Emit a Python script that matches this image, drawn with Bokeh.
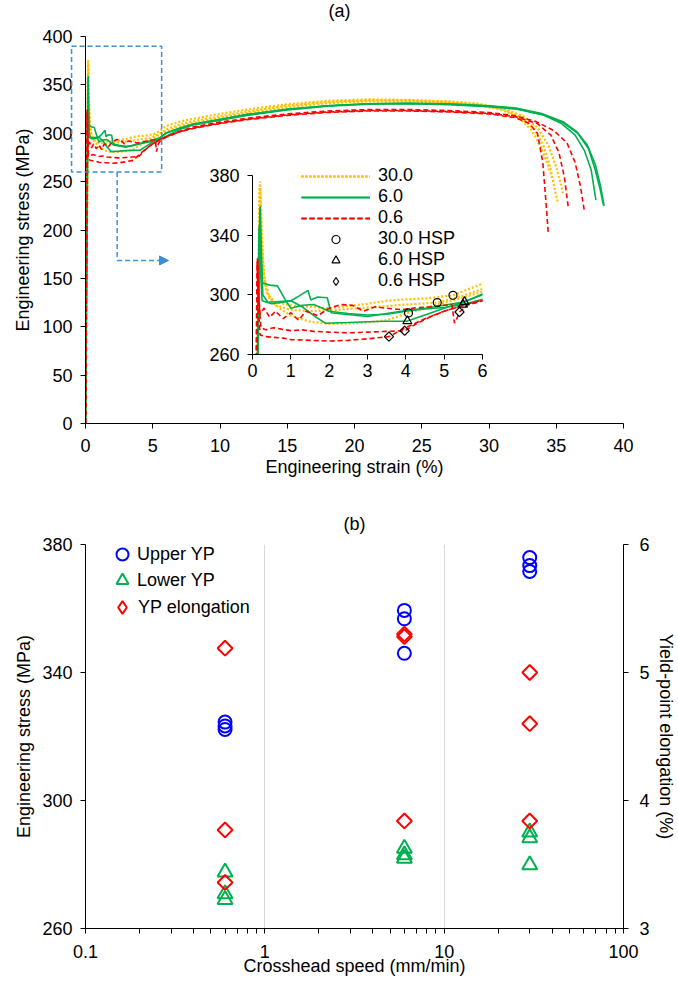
import numpy as np
from bokeh.plotting import figure
from bokeh.models import (Range1d, LinearAxis, FixedTicker, PrintfTickFormatter, Legend,
                          LegendItem, BoxAnnotation, Arrow, NormalHead, GridBox, Column, Label)
from bokeh.embed import file_html
from bokeh.resources import INLINE

# ---------------------------------------------------------------- data
# Engineering stress-strain records, three specimens per crosshead speed (mm/min)
strain_30_a = [0, 0.20, 0.24, 0.30, 0.40, 0.60, 1.0, 1.5, 2.0, 2.5, 3.0, 3.5, 4.0, 4.5, 5.23, 6.0, 7.0, 8.0,
               10, 12, 15, 18, 21, 24, 27, 29, 31, 32.5, 33.6, 34.4, 35.0, 35.3, 35.5]
stress_30_a = [0, 375.9, 340, 312, 300, 295, 293, 292, 291, 292.5, 294, 296, 297, 297.5, 299.7, 307.5, 312, 315,
               320, 324.5, 330, 333.5, 335, 334.5, 333, 331, 326, 318, 306, 288, 265, 250, 238]

strain_30_b = [0, 0.18, 0.22, 0.28, 0.36, 0.60, 1.0, 1.5, 2.0, 2.5, 3.0, 3.5, 4.0, 4.82, 5.5, 6.0, 7.0, 8.0,
               10, 12, 15, 18, 21, 24, 27, 29, 31, 32.3, 33.3, 34.0, 34.5, 34.8, 35.1]
stress_30_b = [0, 373.4, 345, 318, 302, 293, 290, 289, 289.5, 290.5, 291.5, 292.5, 293.5, 294.8, 299.5, 304, 309,
               312.5, 317.5, 322.5, 328.5, 332.5, 334, 334, 332, 330, 325, 317, 305, 289, 268, 248, 229]

strain_30_c = [0, 0.20, 0.25, 0.30, 0.45, 0.70, 1.0, 1.5, 2.0, 2.5, 3.0, 3.5, 4.07, 4.6, 5.2, 6.0, 7.0, 8.0,
               10, 12, 15, 18, 21, 24, 27, 29, 31, 32.2, 33.1, 33.8, 34.3, 34.6, 34.8]
stress_30_c = [0, 371.6, 338, 312, 297, 291, 286, 282, 280.5, 280.8, 281.5, 283, 287.9, 292, 296, 302, 307, 310.5,
               316, 321, 327, 331, 333, 333, 331.5, 329.5, 324, 316, 304, 288, 270, 258, 250]

strain_6_a = [0, 0.20, 0.23, 0.27, 0.40, 0.70, 1.0, 1.2, 1.45, 1.52, 1.7, 1.95, 2.05, 2.4, 3.0, 3.5, 4.0, 4.5,
              5.0, 5.53, 6.0, 7.0, 8.0, 10, 12, 15, 18, 21, 24, 27, 30, 32, 34, 35.5, 36.5, 37.3, 37.9, 38.3,
              38.56]
stress_6_a = [0, 359.4, 330, 300, 295, 295.5, 296, 299, 303, 296.5, 298.5, 298, 288, 287, 285.5, 287.5, 289.5,
              291, 293, 295.3, 300, 305.5, 309.5, 314.5, 319.5, 325, 328.5, 330.5, 331, 330.5, 328.5, 326, 320,
              312, 302, 288, 268, 245, 224.6]

strain_6_b = [0, 0.19, 0.22, 0.26, 0.45, 0.65, 0.85, 1.0, 1.3, 1.6, 2.0, 2.5, 3.0, 3.5, 4.0, 4.5, 5.0, 5.49,
              6.0, 7.0, 8.0, 10, 12, 15, 18, 21, 24, 27, 30, 32, 34, 35.4, 36.4, 37.1, 37.6, 37.95]
stress_6_b = [0, 356.8, 325, 308, 306.5, 306, 297, 291, 293, 293.5, 289, 287.5, 286.5, 287, 289, 290.5, 291.5,
              293.5, 297, 304, 308.5, 313.5, 318.5, 324, 328, 330, 330.5, 329.5, 327.5, 325, 319, 310, 298, 282,
              262, 231]

strain_6_c = [0, 0.17, 0.21, 0.25, 0.50, 0.80, 1.0, 1.3, 1.6, 1.9, 2.5, 3.0, 3.5, 4.04, 4.5, 5.0, 5.5, 6.0,
              7.0, 8.0, 10, 12, 15, 18, 21, 24, 27, 30, 32, 34, 35.5, 36.6, 37.4, 37.9, 38.3, 38.5]
stress_6_c = [0, 346.0, 315, 296, 294, 295, 296, 292, 286, 281, 281.5, 282, 282.3, 282.4, 286.5, 291, 295,
              300.5, 305, 309, 314, 319, 324.5, 328.5, 330.5, 331, 330, 328, 325.5, 319.5, 311, 300, 284, 262,
              240, 226]

strain_06_a = [0, 0.13, 0.16, 0.20, 0.30, 0.45, 0.60, 0.80, 1.0, 1.2, 1.4, 1.7, 2.0, 2.3, 2.6, 2.9, 3.2, 3.5,
               3.9, 4.3, 4.7, 5.0, 5.2, 5.27, 5.33, 5.40, 5.6, 6.0, 7.0, 8.0, 10, 12, 15, 18, 21, 24, 27, 30,
               32, 33.5, 34.8, 35.8, 36.4, 36.8, 37.1]
stress_06_a = [0, 324.5, 300, 287, 291, 285, 289, 284, 288, 283, 289, 286, 291, 293.5, 293, 289, 292, 291, 290,
               291.5, 292, 293, 293.5, 281, 284, 288.5, 293, 296, 302, 306.5, 311.5, 315.5, 320, 323, 324.5,
               324.5, 323.5, 321.5, 318, 312, 303, 290, 270, 245, 219]

strain_06_b = [0, 0.14, 0.17, 0.22, 0.35, 0.55, 0.75, 1.0, 1.3, 1.6, 2.0, 2.5, 3.0, 3.5, 3.97, 4.3, 4.7, 5.0,
               5.5, 6.0, 7.0, 8.0, 10, 12, 15, 18, 21, 24, 27, 30, 32, 33.6, 34.6, 35.2, 35.6, 35.9]
stress_06_b = [0, 323.3, 295, 278, 276.5, 278, 277, 276, 276.5, 275.5, 275, 274.5, 275, 275.5, 275.9, 281, 286,
               289, 293, 296, 301.5, 305.5, 310.5, 314.5, 319, 322, 323.5, 323.5, 322.5, 320.5, 317, 310, 298,
               280, 255, 223]

strain_06_c = [0, 0.12, 0.15, 0.20, 0.35, 0.55, 0.80, 1.0, 1.5, 2.0, 2.5, 3.0, 3.56, 4.0, 4.5, 5.0, 5.5, 6.0,
               7.0, 8.0, 10, 12, 15, 18, 21, 24, 27, 30, 32, 33.0, 33.6, 34.0, 34.2, 34.4]
stress_06_c = [0, 322.2, 290, 273, 272, 271.5, 271, 270, 269.5, 269, 269.5, 270.5, 272.0, 278, 284, 289, 293,
               296.5, 301.5, 305, 310, 314, 318.5, 321.5, 323, 323, 322, 320, 316, 310, 300, 270, 235, 198]

# Hardening start points (HSP)
hsp_strain_30 = [4.07, 4.82, 5.23]
hsp_stress_30 = [287.9, 294.8, 299.7]
hsp_strain_6 = [4.04, 5.49, 5.53]
hsp_stress_6 = [282.4, 293.5, 295.3]
hsp_strain_06 = [3.56, 3.97, 5.40]
hsp_stress_06 = [272.0, 275.9, 288.5]

# Yield-point summary against crosshead speed
speed = [0.6, 0.6, 0.6, 6, 6, 6, 30, 30, 30]
upper_yp = [324.5, 323.3, 322.2, 359.4, 356.8, 346.0, 375.9, 373.4, 371.6]
lower_yp = [277.6, 270.8, 269.0, 285.0, 283.0, 281.9, 290.1, 288.3, 279.9]
yp_elongation = [5.19, 3.77, 3.36, 5.30, 5.28, 3.84, 5.00, 4.60, 3.84]

strain_ticks = [0, 5, 10, 15, 20, 25, 30, 35, 40]
stress_ticks = [0, 50, 100, 150, 200, 250, 300, 350, 400]
inset_strain_ticks = [0, 1, 2, 3, 4, 5, 6]
inset_stress_ticks = [260, 300, 340, 380]
speed_ticks = [0.1, 1, 10, 100]
speed_minor_ticks = [0.2, 0.3, 0.4, 0.5, 0.6, 0.7, 0.8, 0.9, 2, 3, 4, 5, 6, 7, 8, 9,
                     20, 30, 40, 50, 60, 70, 80, 90]
ys_ticks = [260, 300, 340, 380]
elong_ticks = [3, 4, 5, 6]

# zoomed region shown in the inset (strain %, stress MPa) and its pointer
zoom_left, zoom_right, zoom_bottom, zoom_top = -0.8, 5.8, 260, 390
pointer_x, pointer_y, pointer_end = 2.54, 168.5, 6.3

# ---------------------------------------------------------------- geometry & styling
FONT = "Liberation Sans"
ORANGE, GREEN, RED, BLUE = "#FFC000", "#00B050", "#FF0000", "#0000FF"
ZOOM_COLOR = "#3B8FD9"

TOP_W, TOP_H = 678, 495
TOP_BORDER = dict(left=82, right=50, top=36, bottom=72)
STRAIN_RANGE, STRESS_RANGE = (0, 40), (0, 400)
OVERLAY_W, OVERLAY_H = 678, 385          # transparent overlay holding the zoom frame and the panel tag

line_style = {
    "30.0": dict(line_color=ORANGE, line_width=2.2, line_dash="2 2"),
    "6.0": dict(line_color=GREEN, line_width=1.6),
    "0.6": dict(line_color=RED, line_width=1.6, line_dash="5 3"),
}
curves = [
    ("30.0", strain_30_a, stress_30_a), ("30.0", strain_30_b, stress_30_b), ("30.0", strain_30_c, stress_30_c),
    ("6.0", strain_6_a, stress_6_a), ("6.0", strain_6_b, stress_6_b), ("6.0", strain_6_c, stress_6_c),
    ("0.6", strain_06_a, stress_06_a), ("0.6", strain_06_b, stress_06_b), ("0.6", strain_06_c, stress_06_c),
]


def style_axis(ax, label_standoff=8, title_standoff=2):
    ax.axis_line_color = "black"
    ax.axis_line_width = 1
    ax.major_tick_line_color = "black"
    ax.major_tick_in = 0
    ax.major_tick_out = 5
    ax.minor_tick_line_color = None
    ax.major_label_standoff = label_standoff
    ax.axis_label_standoff = title_standoff
    ax.major_label_text_font = FONT
    ax.major_label_text_font_size = "18px"
    ax.major_label_text_color = "black"
    ax.axis_label_text_font = FONT
    ax.axis_label_text_font_size = "18px"
    ax.axis_label_text_font_style = "normal"
    ax.axis_label_text_color = "black"


def legend_box(items, location, glyph_w, glyph_h, standoff):
    return Legend(items=items, location=location, glyph_width=glyph_w, glyph_height=glyph_h,
                  label_height=glyph_h, spacing=0, padding=0, margin=0, label_standoff=standoff,
                  background_fill_alpha=0, border_line_color=None, label_text_font=FONT,
                  label_text_font_size="18px", label_text_color="black")


def key(fig, marker, size, color):
    # legend key only: a single undefined point, nothing is drawn in the plot area
    return fig.scatter(x=[np.nan], y=[np.nan], marker=marker, size=size, fill_color=None,
                       line_color=color, line_width=1.2 if color == "black" else 2)


# ---------------------------------------------------------------- (a) full curves
p = figure(width=TOP_W, height=TOP_H, x_range=Range1d(*STRAIN_RANGE), y_range=Range1d(*STRESS_RANGE),
           output_backend="svg", toolbar_location=None,
           min_border_left=TOP_BORDER["left"], min_border_right=TOP_BORDER["right"],
           min_border_top=TOP_BORDER["top"], min_border_bottom=TOP_BORDER["bottom"],
           x_axis_label="Engineering strain (%)", y_axis_label="Engineering stress (MPa)")
p.grid.visible = False
p.outline_line_color = None
p.xaxis.ticker = FixedTicker(ticks=strain_ticks)
p.yaxis.ticker = FixedTicker(ticks=stress_ticks)
style_axis(p.xaxis[0], label_standoff=10, title_standoff=2)
style_axis(p.yaxis[0], label_standoff=8, title_standoff=6)

main_lines = {"30.0": [], "6.0": [], "0.6": []}
for speed_label, xs, ys in curves:
    main_lines[speed_label].append(p.line(xs, ys, **line_style[speed_label]))

p.add_layout(legend_box([
    LegendItem(label="30.0", renderers=main_lines["30.0"]),
    LegendItem(label="6.0", renderers=main_lines["6.0"]),
    LegendItem(label="0.6", renderers=main_lines["0.6"]),
    LegendItem(label="30.0 HSP", renderers=[key(p, "circle", 8, "black")]),
    LegendItem(label="6.0 HSP", renderers=[key(p, "triangle", 8, "black")]),
    LegendItem(label="0.6 HSP", renderers=[key(p, "diamond", 8, "black")]),
], (216, 132), 69, 20, 8))

# ---------------------------------------------------------------- zoom frame, pointer and tag
# transparent overlay sharing the strain/stress scale of (a), so the frame may
# extend past the stress axis
px_strain = (TOP_W - TOP_BORDER["left"] - TOP_BORDER["right"]) / (STRAIN_RANGE[1] - STRAIN_RANGE[0])
px_stress = (TOP_H - TOP_BORDER["top"] - TOP_BORDER["bottom"]) / (STRESS_RANGE[1] - STRESS_RANGE[0])
ov_x0 = STRAIN_RANGE[0] - TOP_BORDER["left"] / px_strain
ov_y1 = STRESS_RANGE[1] + TOP_BORDER["top"] / px_stress
pz = figure(width=OVERLAY_W, height=OVERLAY_H,
            x_range=Range1d(ov_x0, ov_x0 + OVERLAY_W / px_strain),
            y_range=Range1d(ov_y1 - OVERLAY_H / px_stress, ov_y1),
            output_backend="svg", toolbar_location=None,
            min_border_left=0, min_border_right=0, min_border_top=0, min_border_bottom=0,
            x_axis_location=None, y_axis_location=None)
pz.grid.visible = False
pz.outline_line_color = None
pz.background_fill_color = None
pz.border_fill_color = None
pz.add_layout(BoxAnnotation(left=zoom_left, right=zoom_right, bottom=zoom_bottom, top=zoom_top,
                            fill_alpha=0, line_color=ZOOM_COLOR, line_alpha=1, line_width=1.5,
                            line_dash="5 3"))
pz.add_layout(Arrow(x_start=pointer_x, y_start=zoom_bottom, x_end=pointer_x, y_end=pointer_y, end=None,
                    line_color=ZOOM_COLOR, line_width=1.5, line_dash="5 3"))
pz.add_layout(Arrow(x_start=pointer_x, y_start=pointer_y, x_end=pointer_end, y_end=pointer_y,
                    end=NormalHead(size=9, fill_color=ZOOM_COLOR, line_color=ZOOM_COLOR),
                    line_color=ZOOM_COLOR, line_width=1.5, line_dash="5 3"))
pz.add_layout(Label(x=OVERLAY_W / 2, y=OVERLAY_H - 10, x_units="screen", y_units="screen", text="(a)",
                    text_align="center", text_baseline="middle", text_font=FONT,
                    text_font_size="18px", text_color="black"))
overlay_layer = Column(children=[pz], width=OVERLAY_W, height=OVERLAY_H)

# ---------------------------------------------------------------- (a) inset, yield region
pi = figure(width=295, height=250, x_range=Range1d(0, 6), y_range=Range1d(260, 380),
            output_backend="svg", toolbar_location=None,
            min_border_left=45, min_border_right=19, min_border_top=40, min_border_bottom=31)
pi.grid.visible = False
pi.outline_line_color = None
pi.background_fill_color = None
pi.border_fill_color = None
pi.xaxis.ticker = FixedTicker(ticks=inset_strain_ticks)
pi.yaxis.ticker = FixedTicker(ticks=inset_stress_ticks)
style_axis(pi.xaxis[0], label_standoff=4)
style_axis(pi.yaxis[0], label_standoff=8)

for speed_label, xs, ys in curves:
    pi.line(xs, ys, **line_style[speed_label])

pi.scatter(hsp_strain_30, hsp_stress_30, marker="circle", size=8,
           fill_color=None, line_color="black", line_width=1.2)
pi.scatter(hsp_strain_6, hsp_stress_6, marker="triangle", size=9,
           fill_color=None, line_color="black", line_width=1.2)
pi.scatter(hsp_strain_06, hsp_stress_06, marker="square", angle=np.pi / 4, size=6.5,
           fill_color=None, line_color="black", line_width=1.2)

# ---------------------------------------------------------------- (b) yield point vs speed
pb = figure(width=678, height=486, x_axis_type="log", x_range=Range1d(0.1, 100),
            y_range=Range1d(260, 380), output_backend="svg", toolbar_location=None, title="(b)",
            min_border_left=85, min_border_right=50, min_border_top=49, min_border_bottom=53,
            x_axis_label="Crosshead speed (mm/min)", y_axis_label="Engineering stress (MPa)")
pb.outline_line_color = None
pb.extra_y_ranges = {"elong": Range1d(3, 6)}
pb.ygrid.visible = False
pb.xgrid.ticker = FixedTicker(ticks=[1, 10])
pb.xgrid.grid_line_color = "#D9D9D9"
pb.xgrid.grid_line_width = 1
pb.xaxis.ticker = FixedTicker(ticks=speed_ticks, minor_ticks=speed_minor_ticks)
pb.xaxis.formatter = PrintfTickFormatter(format="%g")
pb.yaxis.ticker = FixedTicker(ticks=ys_ticks)
style_axis(pb.xaxis[0], label_standoff=11, title_standoff=-5)
pb.xaxis.minor_tick_line_color = "black"
pb.xaxis.minor_tick_in = 0
pb.xaxis.minor_tick_out = 5
style_axis(pb.yaxis[0], label_standoff=8, title_standoff=5)

right_axis = LinearAxis(y_range_name="elong", axis_label="Yield-point elongation (%)",
                        ticker=FixedTicker(ticks=elong_ticks))
style_axis(right_axis, label_standoff=11, title_standoff=3)
pb.add_layout(right_axis, "right")

pb.title.text_font = FONT
pb.title.text_font_size = "18px"
pb.title.text_font_style = "normal"
pb.title.text_color = "black"
pb.title.align = "center"
pb.title.offset = -10
pb.title.vertical_align = "top"
pb.title.standoff = 18

r_up = pb.scatter(speed, upper_yp, marker="circle", size=13, fill_color=None,
                  line_color=BLUE, line_width=2)
r_lo = pb.scatter(speed, lower_yp, marker="triangle", size=15, fill_color=None,
                  line_color=GREEN, line_width=2)
r_el = pb.scatter(speed, yp_elongation, marker="square", angle=np.pi / 4, size=10.5, fill_color=None,
                  line_color=RED, line_width=2, y_range_name="elong")

pb.add_layout(legend_box([LegendItem(label="Upper YP", renderers=[r_up])], (22, 359), 30, 30, -5))
pb.add_layout(legend_box([LegendItem(label="Lower YP", renderers=[r_lo])], (22, 333), 30, 30, -5))
pb.add_layout(legend_box([LegendItem(label="YP elongation", renderers=[key(pb, "diamond", 12, RED)])],
                         (21, 305), 32, 32, -6))

# ---------------------------------------------------------------- page
layout = GridBox(children=[(p, 0, 0, 3, 3), (overlay_layer, 0, 0, 2, 3), (pi, 1, 1, 1, 1),
                           (pb, 3, 0, 1, 3)],
                 rows=["135px", "250px", "110px", "486px"],
                 cols=["206px", "295px", "177px"], spacing=0)

open("out.html", "w").write(file_html(layout, INLINE))
